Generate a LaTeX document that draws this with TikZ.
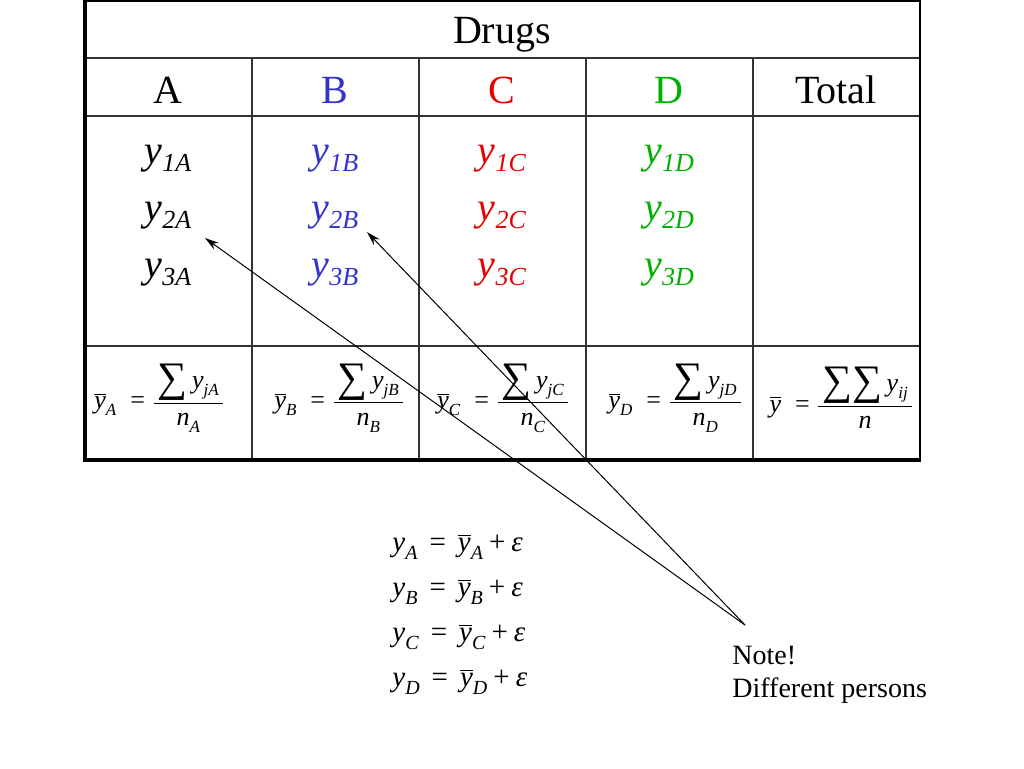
\documentclass[tikz,border=0pt]{standalone}
\usepackage{fontspec}
\setmainfont{Liberation Serif}
\usetikzlibrary{arrows.meta}

\definecolor{drugB}{RGB}{51,51,204}
\definecolor{drugC}{RGB}{230,0,0}
\definecolor{drugD}{RGB}{0,175,0}

% observations y_{iX}
\newcommand\obsY[1]{\textit{y}\raisebox{-4pt}{\fontsize{13pt}{13pt}\selectfont\textit{#1}}}
% small pieces of the mean formulas
\newcommand\msub[1]{\raisebox{-3.5pt}{\fontsize{8.5pt}{8.5pt}\selectfont\textit{#1}}}
\newcommand\ybar{$\overline{\mbox{\textit{y}}}$}
\newcommand\bigsum{\raisebox{-1.5pt}{\fontsize{21pt}{21pt}\selectfont ∑}}
\newcommand\meanF[3]{\ybar#1\hspace{7pt}=\hspace{3pt}$\displaystyle\frac{\mbox{\,#2\,}}{\mbox{#3}}$}
% model equations
\newcommand\esub[1]{\raisebox{-4pt}{\fontsize{10pt}{10pt}\selectfont\textit{#1}}}
\newcommand\eqnY[1]{\textit{y}\esub{#1}\hspace{6pt}=\hspace{6pt}\ybar\esub{#1}\hspace{3pt}+\hspace{3pt}\textit{ε}}

\begin{document}
\begin{tikzpicture}[x=0.5pt,y=-0.5pt,
    hdr/.style={font=\fontsize{20pt}{24pt}\selectfont},
    obs/.style={font=\fontsize{20pt}{24pt}\selectfont},
    mean/.style={font=\fontsize{13pt}{15pt}\selectfont},
    eqn/.style={font=\fontsize{14.5pt}{17pt}\selectfont, anchor=west, inner sep=0pt},
    grid/.style={line width=0.75pt, black!80}]
    \useasboundingbox (0,0) rectangle (1024,768);

    % table
    \draw [grid] (85,58) -- (920,58);
    \draw [grid] (85,116) -- (920,116);
    \draw [grid] (85,346) -- (920,346);
    \foreach \x in {252,419,586,753}
      \draw [grid] (\x,58) -- (\x,460);
    \draw [line width=0.75pt] (85,1) -- (920,1);
    \draw [line width=1pt] (920,0) -- (920,461);
    \draw [line width=1.6pt] (85,0) -- (85,462);
    \draw [line width=1.8pt] (84,460) -- (921,460);

    \node [hdr] (DrHead) at (502,35) {Drugs};
    \node [hdr] (DrA) at (168,90) {A};
    \node [hdr, drugB] (DrB) at (335,90) {B};
    \node [hdr, drugC] (DrC) at (502,90) {C};
    \node [hdr, drugD] (DrD) at (669,90) {D};
    \node [hdr] (DrTot) at (836,90) {Total};

    \node [obs] (ObA1) at (168,159) {\obsY{1A}};
    \node [obs] (ObA2) at (168,216) {\obsY{2A}};
    \node [obs] (ObA3) at (168,273) {\obsY{3A}};
    \node [obs, drugB] (ObB1) at (335,159) {\obsY{1B}};
    \node [obs, drugB] (ObB2) at (335,216) {\obsY{2B}};
    \node [obs, drugB] (ObB3) at (335,273) {\obsY{3B}};
    \node [obs, drugC] (ObC1) at (502,159) {\obsY{1C}};
    \node [obs, drugC] (ObC2) at (502,216) {\obsY{2C}};
    \node [obs, drugC] (ObC3) at (502,273) {\obsY{3C}};
    \node [obs, drugD] (ObD1) at (669,159) {\obsY{1D}};
    \node [obs, drugD] (ObD2) at (669,216) {\obsY{2D}};
    \node [obs, drugD] (ObD3) at (669,273) {\obsY{3D}};

    \node [mean] (MnA) at (160,398) {\meanF{\msub{A}}{\bigsum\,\textit{y}\msub{jA}}{\textit{n}\msub{A}}};
    \node [mean] (MnB) at (340,398) {\meanF{\msub{B}}{\bigsum\,\textit{y}\msub{jB}}{\textit{n}\msub{B}}};
    \node [mean] (MnC) at (504,398) {\meanF{\msub{C}}{\bigsum\,\textit{y}\msub{jC}}{\textit{n}\msub{C}}};
    \node [mean] (MnD) at (676,398) {\meanF{\msub{D}}{\bigsum\,\textit{y}\msub{jD}}{\textit{n}\msub{D}}};
    \node [mean] (MnTot) at (842,398) {\meanF{}{\bigsum\bigsum\,\textit{y}\msub{ij}}{\textit{n}}};

    \node [eqn] (EqA) at (392,547) {\eqnY{A}};
    \node [eqn] (EqB) at (392,592) {\eqnY{B}};
    \node [eqn] (EqC) at (392,637) {\eqnY{C}};
    \node [eqn] (EqD) at (392,682) {\eqnY{D}};

    \node [font=\fontsize{14pt}{16.5pt}\selectfont, align=left, anchor=north west, inner sep=0pt]
      (NoteTxt) at (732,646) {Note!\\Different persons};

    \coordinate (NoteTip) at (745,625);
    \coordinate (PtA) at (205,238);
    \coordinate (PtB) at (367,232);
    \draw [-{Stealth[length=7pt,width=4pt]}, line width=0.5pt] (NoteTip) -- (PtA);
    \draw [-{Stealth[length=7pt,width=4pt]}, line width=0.5pt] (NoteTip) -- (PtB);
  \end{tikzpicture}
\end{document}
